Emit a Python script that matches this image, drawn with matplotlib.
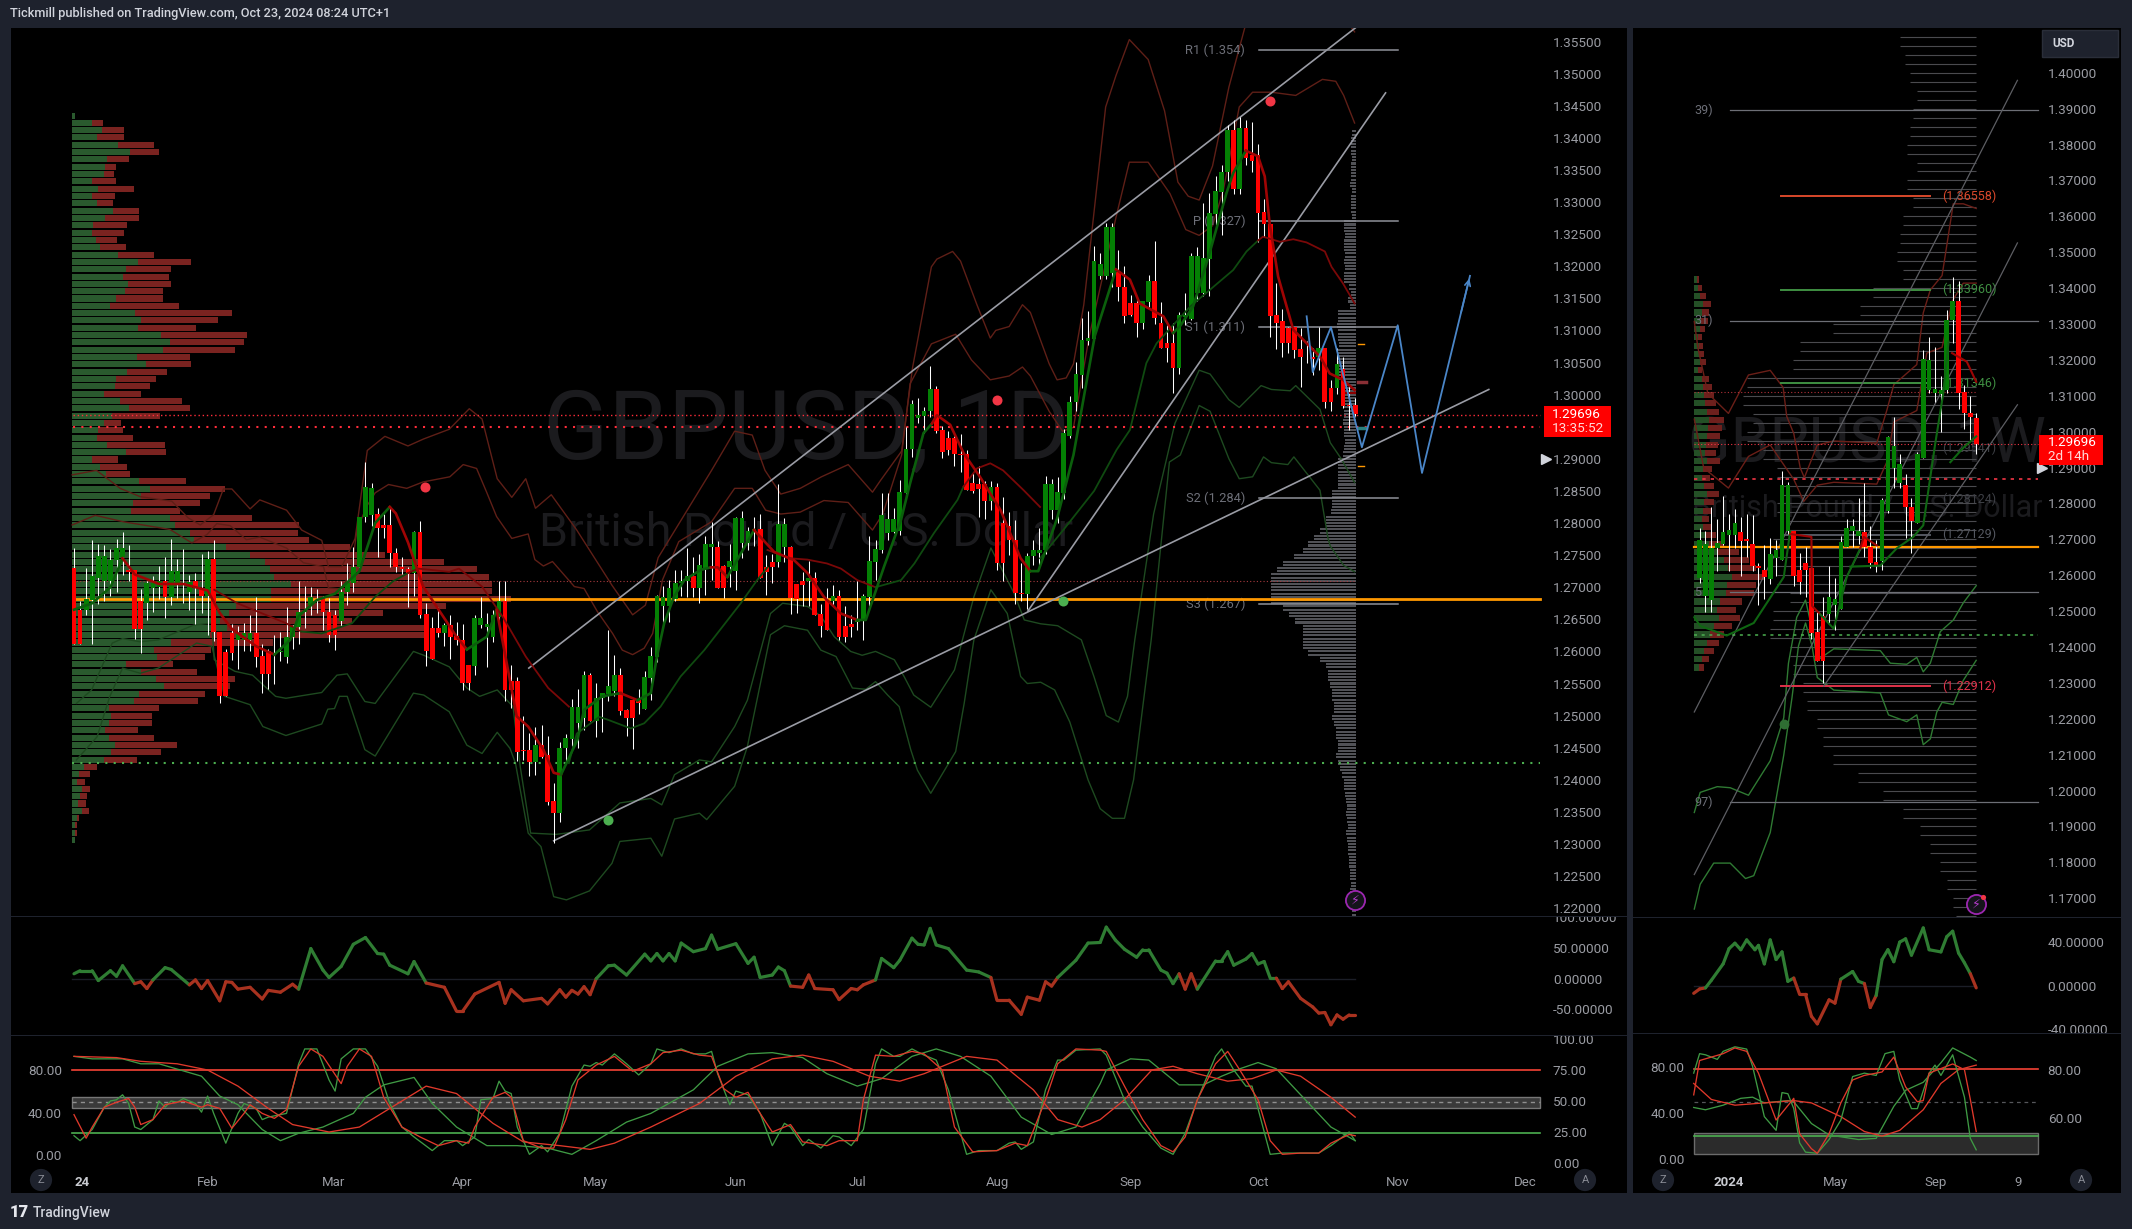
#!/usr/bin/env python3
import numpy as np
import matplotlib
matplotlib.use("Agg")
import matplotlib.pyplot as plt
from matplotlib.patches import Rectangle

plt.rcParams['font.family'] = ['Roboto', 'DejaVu Sans']

W, H = 2132, 1229
BG = '#1e222d'
TXT = '#9a9ca3'
GREEN = '#048004'
RED = '#ff0000'

# daily candles, bar by bar
d_open = [1.2730,1.2665,1.2664,1.2680,1.2714,1.2709,1.2709,1.2742,1.2747,1.2727,1.2727,1.2678,1.2675,1.2699,1.2700,1.2710,1.2685,1.2705,1.2706,1.2692,
          1.2709,1.2699,1.2687,1.2744,1.2631,1.2599,1.2628,1.2617,1.2617,1.2617,1.2629,1.2593,1.2601,1.2600,1.2599,1.2592,1.2622,1.2638,1.2661,1.2673,
          1.2685,1.2684,1.2662,1.2656,1.2648,1.2692,1.2706,1.2731,1.2809,1.2813,1.2814,1.2797,1.2797,1.2753,1.2731,1.2728,1.2722,1.2786,1.2659,1.2637,
          1.2637,1.2628,1.2641,1.2624,1.2618,1.2579,1.2578,1.2641,1.2638,1.2622,1.2654,1.2679,1.2554,1.2554,1.2447,1.2447,1.2427,1.2455,1.2438,1.2367,
          1.2349,1.2449,1.2464,1.2488,1.2497,1.2563,1.2492,1.2527,1.2534,1.2539,1.2563,1.2509,1.2524,1.2524,1.2510,1.2559,1.2592,1.2670,1.2670,1.2681,
          1.2706,1.2709,1.2717,1.2698,1.2729,1.2762,1.2762,1.2733,1.2732,1.2726,1.2769,1.2769,1.2787,1.2790,1.2731,1.2740,1.2740,1.2762,1.2762,1.2705,
          1.2710,1.2709,1.2715,1.2658,1.2680,1.2679,1.2686,1.2640,1.2643,1.2646,1.2649,1.2685,1.2740,1.2758,1.2785,1.2786,1.2787,1.2847,1.2915,1.2963,
          1.2967,1.2974,1.3009,1.2945,1.2933,1.2933,1.2908,1.2908,1.2863,1.2861,1.2861,1.2835,1.2856,1.2800,1.2795,1.2774,1.2691,1.2690,1.2748,1.2754,
          1.2758,1.2820,1.2820,1.2847,1.2935,1.2988,1.3031,1.3084,1.3087,1.3184,1.3184,1.3190,1.3191,1.3168,1.3143,1.3143,1.3112,1.3145,1.3177,1.3111,
          1.3081,1.3081,1.3042,1.3121,1.3117,1.3159,1.3159,1.3212,1.3282,1.3316,1.3346,1.3412,1.3321,1.3415,1.3373,1.3373,1.3284,1.3266,1.3124,1.3115,
          1.3104,1.3105,1.3071,1.3059,1.3058,1.3058,1.3073,1.3011,1.3010,1.3040,1.2984,1.2984]
d_close = [1.2612,1.2612,1.2682,1.2717,1.2749,1.2749,1.2743,1.2761,1.2761,1.2723,1.2635,1.2635,1.2706,1.2706,1.2709,1.2685,1.2725,1.2725,1.2703,1.2708,
           1.2698,1.2687,1.2744,1.2630,1.2531,1.2531,1.2598,1.2628,1.2628,1.2629,1.2592,1.2565,1.2565,1.2601,1.2600,1.2622,1.2638,1.2661,1.2663,1.2685,
           1.2684,1.2661,1.2625,1.2625,1.2693,1.2706,1.2731,1.2809,1.2856,1.2855,1.2793,1.2793,1.2753,1.2732,1.2729,1.2721,1.2786,1.2657,1.2600,1.2588,
           1.2628,1.2641,1.2623,1.2617,1.2551,1.2551,1.2652,1.2652,1.2643,1.2656,1.2678,1.2540,1.2540,1.2444,1.2445,1.2427,1.2455,1.2436,1.2366,1.2349,
           1.2449,1.2465,1.2513,1.2513,1.2563,1.2492,1.2527,1.2535,1.2546,1.2563,1.2507,1.2497,1.2497,1.2520,1.2560,1.2593,1.2686,1.2685,1.2699,1.2706,
           1.2710,1.2717,1.2698,1.2735,1.2768,1.2768,1.2699,1.2699,1.2741,1.2808,1.2808,1.2788,1.2790,1.2715,1.2723,1.2731,1.2798,1.2798,1.2683,1.2681,
           1.2704,1.2715,1.2657,1.2640,1.2633,1.2686,1.2622,1.2622,1.2638,1.2649,1.2686,1.2741,1.2760,1.2812,1.2806,1.2806,1.2848,1.2915,1.2985,1.2968,
           1.2975,1.3009,1.2944,1.2910,1.2913,1.2907,1.2906,1.2851,1.2850,1.2853,1.2835,1.2856,1.2737,1.2737,1.2773,1.2691,1.2690,1.2749,1.2758,1.2758,
           1.2861,1.2861,1.2848,1.2940,1.2988,1.3032,1.3085,1.3088,1.3208,1.3203,1.3261,1.3261,1.3167,1.3122,1.3124,1.3112,1.3146,1.3177,1.3120,1.3073,
           1.3073,1.3042,1.3124,1.3124,1.3216,1.3216,1.3213,1.3283,1.3317,1.3347,1.3412,1.3321,1.3415,1.3368,1.3364,1.3283,1.3265,1.3123,1.3112,1.3081,
           1.3081,1.3070,1.3058,1.3058,1.3056,1.3072,1.2989,1.2989,1.3048,1.2983,1.2983,1.2970]
d_high = [1.2761,1.2678,1.2730,1.2773,1.2768,1.2766,1.2759,1.2775,1.2786,1.2766,1.2727,1.2697,1.2709,1.2717,1.2733,1.2747,1.2775,1.2744,1.2759,1.2719,
          1.2722,1.2752,1.2756,1.2774,1.2631,1.2604,1.2643,1.2640,1.2644,1.2656,1.2685,1.2612,1.2603,1.2625,1.2631,1.2669,1.2641,1.2709,1.2702,1.2701,
          1.2697,1.2687,1.2683,1.2665,1.2709,1.2737,1.2762,1.2810,1.2895,1.2863,1.2823,1.2814,1.2823,1.2761,1.2747,1.2732,1.2788,1.2803,1.2675,1.2653,
          1.2669,1.2644,1.2656,1.2646,1.2643,1.2579,1.2657,1.2685,1.2660,1.2665,1.2710,1.2709,1.2579,1.2560,1.2499,1.2473,1.2483,1.2486,1.2469,1.2395,
          1.2459,1.2472,1.2526,1.2541,1.2570,1.2566,1.2551,1.2535,1.2634,1.2594,1.2574,1.2511,1.2526,1.2541,1.2570,1.2607,1.2688,1.2702,1.2712,1.2727,
          1.2727,1.2761,1.2747,1.2752,1.2779,1.2802,1.2772,1.2735,1.2767,1.2809,1.2819,1.2794,1.2809,1.2814,1.2750,1.2752,1.2860,1.2808,1.2764,1.2705,
          1.2723,1.2741,1.2724,1.2674,1.2698,1.2704,1.2696,1.2671,1.2657,1.2710,1.2689,1.2779,1.2774,1.2846,1.2846,1.2824,1.2867,1.2950,1.2992,1.2994,
          1.2980,1.3045,1.3014,1.2951,1.2944,1.2936,1.2939,1.2914,1.2879,1.2889,1.2866,1.2866,1.2863,1.2840,1.2817,1.2804,1.2737,1.2753,1.2774,1.2793,
          1.2873,1.2868,1.2871,1.2946,1.2998,1.3051,1.3119,1.3131,1.3231,1.3221,1.3268,1.3267,1.3226,1.3200,1.3155,1.3148,1.3146,1.3186,1.3239,1.3144,
          1.3109,1.3111,1.3128,1.3159,1.3220,1.3230,1.3299,1.3314,1.3340,1.3358,1.3420,1.3428,1.3432,1.3428,1.3424,1.3391,1.3304,1.3266,1.3174,1.3134,
          1.3106,1.3106,1.3103,1.3083,1.3072,1.3105,1.3073,1.3023,1.3072,1.3059,1.3015,1.2994]
d_low = [1.2612,1.2612,1.2657,1.2612,1.2674,1.2678,1.2687,1.2692,1.2719,1.2709,1.2619,1.2598,1.2649,1.2662,1.2681,1.2652,1.2673,1.2683,1.2676,1.2664,
         1.2643,1.2660,1.2626,1.2616,1.2520,1.2531,1.2587,1.2573,1.2600,1.2600,1.2576,1.2536,1.2542,1.2550,1.2585,1.2582,1.2604,1.2612,1.2636,1.2657,
         1.2660,1.2634,1.2614,1.2602,1.2639,1.2673,1.2692,1.2725,1.2801,1.2796,1.2747,1.2776,1.2732,1.2723,1.2721,1.2669,1.2686,1.2652,1.2577,1.2588,
         1.2623,1.2608,1.2588,1.2610,1.2540,1.2540,1.2564,1.2637,1.2575,1.2615,1.2645,1.2522,1.2512,1.2429,1.2431,1.2406,1.2408,1.2434,1.2360,1.2302,
         1.2334,1.2424,1.2452,1.2450,1.2477,1.2491,1.2467,1.2474,1.2523,1.2530,1.2501,1.2468,1.2448,1.2503,1.2510,1.2524,1.2584,1.2645,1.2646,1.2679,
         1.2686,1.2685,1.2685,1.2676,1.2688,1.2711,1.2698,1.2683,1.2701,1.2695,1.2745,1.2758,1.2764,1.2714,1.2688,1.2707,1.2732,1.2740,1.2659,1.2660,
         1.2670,1.2670,1.2657,1.2623,1.2633,1.2671,1.2617,1.2614,1.2622,1.2633,1.2617,1.2670,1.2711,1.2754,1.2774,1.2784,1.2781,1.2841,1.2903,1.2955,
         1.2940,1.2965,1.2940,1.2902,1.2906,1.2889,1.2879,1.2851,1.2847,1.2809,1.2807,1.2820,1.2727,1.2709,1.2750,1.2674,1.2678,1.2666,1.2735,1.2732,
         1.2752,1.2806,1.2800,1.2838,1.2932,1.2975,1.3010,1.3077,1.3084,1.3180,1.3180,1.3168,1.3146,1.3111,1.3122,1.3089,1.3102,1.3137,1.3110,1.3073,
         1.3051,1.3003,1.3032,1.3108,1.3116,1.3146,1.3154,1.3154,1.3264,1.3249,1.3332,1.3313,1.3313,1.3358,1.3347,1.3238,1.3246,1.3090,1.3071,1.3059,
         1.3065,1.3057,1.3012,1.3049,1.3031,1.3038,1.2979,1.2974,1.3001,1.2979,1.2945,1.2967]

# bands around the daily price, (bar, price)
d_upper_out = [(-0.3,1.2875),(3.7,1.2882),(7.6,1.2854),(10.9,1.2841),(16.1,1.2834),(18.8,1.2808),(20.8,1.2797),(23,1.2813),(24.6,1.2853),(26,1.2853),(29,1.2822),(30.6,1.2836),(35,1.2820),(37.5,1.2789),(40.8,1.2773),(41.9,1.2732),(44.1,1.2732),(46.3,1.2776),(48.3,1.2913),(51.2,1.2935),(55,1.2920),(57.6,1.2931),(61.8,1.2946),(65.1,1.2978),(67.2,1.2962),(69.7,1.2869),(72.1,1.2840),(74.4,1.2869),(76,1.2823),(78.6,1.2844),(82.8,1.2789),(88.6,1.2703),(92,1.2657),(94.1,1.2672),(96.2,1.2746),(105,1.2882),(108.8,1.2943),(111.7,1.2937),(113.8,1.2882),(116.4,1.2845),(119.6,1.2854),(123.1,1.2872),(127.5,1.2891),(131.5,1.2848),(132.8,1.2866),(136.3,1.2912),(138.1,1.3042),(141.2,1.3199),(142.1,1.3211),(144.7,1.3223),(146,1.3208),(148.7,1.3140),(150.9,1.3088),(151.8,1.3100),(154,1.3106),(156.2,1.3140),(157.5,1.3128),(160.6,1.3048),(161.9,1.3023),(163.4,1.3026),(164.6,1.3048),(166.3,1.3140),(169.9,1.3448),(171.6,1.3497),(173.8,1.3553),(176.9,1.3522),(179.6,1.3442),(181.8,1.3331),(183.5,1.3309),(185.3,1.3303),(187.5,1.3356),(190.2,1.3479),(192.8,1.3571),(195,1.3640),(205,1.3640),(210.9,1.3565)]
d_upper_in = [(-0.3,1.2797),(3.5,1.2812),(8.1,1.2802),(15.8,1.2790),(19.4,1.2769),(21.9,1.2782),(23.5,1.2799),(25.7,1.2796),(28.4,1.2774),(30.6,1.2778),(35,1.2761),(37.8,1.2738),(41.1,1.2732),(41.9,1.2699),(44.1,1.2697),(45.7,1.2727),(46.6,1.2789),(48.2,1.2826),(49.6,1.2847),(51.8,1.2860),(54.8,1.2854),(57.5,1.2864),(61.9,1.2872),(64.1,1.2891),(66.3,1.2885),(68,1.2847),(69.6,1.2810),(72.1,1.2776),(74.8,1.2783),(75.9,1.2743),(77.3,1.2733),(78.8,1.2740),(82.4,1.2701),(84,1.2698),(86.2,1.2662),(88.7,1.2628),(90.3,1.2602),(92,1.2595),(93.9,1.2605),(95.3,1.2628),(96.9,1.2711),(99.6,1.2771),(105,1.2802),(108.8,1.2854),(111.7,1.2854),(113.9,1.2820),(116.4,1.2814),(119.6,1.2817),(123.5,1.2835),(127.5,1.2832),(131.5,1.2789),(133.2,1.2814),(136.3,1.2906),(137.7,1.3017),(141.2,1.3079),(145.2,1.3094),(147.8,1.3054),(150.9,1.3023),(154,1.3029),(156.2,1.3043),(157.5,1.3029),(160.6,1.2974),(162.8,1.2943),(164.6,1.2949),(167.2,1.3091),(171.6,1.3276),(173.8,1.3362),(176.9,1.3362),(180.5,1.3313),(183.1,1.3257),(185.3,1.3248),(187.5,1.3263),(189.3,1.3319),(191.9,1.3448),(194.1,1.3471),(197.2,1.3471),(201.2,1.3466),(205.6,1.3491),(207.8,1.3488),(209.1,1.3466),(210.9,1.3423)]
d_lower_in = [(0.4,1.2519),(2.9,1.2540),(6.3,1.2613),(8,1.2620),(10.9,1.2615),(13.9,1.2618),(19.7,1.2641),(22.7,1.2644),(23.1,1.2587),(26.5,1.2569),(29.4,1.2563),(33.2,1.2530),(34.9,1.2527),(40.8,1.2536),(43.3,1.2563),(45,1.2565),(47.9,1.2522),(49.6,1.2519),(55.9,1.2600),(57.6,1.2594),(61.8,1.2576),(64.7,1.2543),(66.8,1.2530),(69.7,1.2540),(72.3,1.2514),(73.5,1.2420),(75.2,1.2317),(79.4,1.2315),(84.9,1.2322),(89.9,1.2364),(95,1.2371),(96.8,1.2361),(98.9,1.2408),(103,1.2431),(105,1.2428),(108.8,1.2483),(110.9,1.2524),(114.7,1.2659),(116.7,1.2675),(120.8,1.2670),(123,1.2655),(125.2,1.2623),(127.9,1.2600),(129.8,1.2594),(132,1.2600),(135.1,1.2587),(136.7,1.2561),(138.3,1.2532),(141.1,1.2513),(145,1.2571),(148.2,1.2685),(151,1.2761),(154.8,1.2691),(156.5,1.2649),(159.2,1.2643),(162,1.2640),(165.9,1.2618),(168,1.2560),(170,1.2500),(172,1.2490),(173.5,1.2530),(174.7,1.2618),(177.8,1.2814),(181.3,1.2955),(185.3,1.3038),(187.1,1.3032),(190.2,1.2992),(191.9,1.2980),(195.5,1.3014),(197.2,1.3008),(200.3,1.3006),(201.2,1.3014),(205.2,1.2977),(206.9,1.2925),(208.7,1.2900),(210.9,1.2863)]
d_lower_out = [(0.4,1.2431),(3.8,1.2467),(5.9,1.2530),(8,1.2574),(10.9,1.2566),(13.9,1.2574),(20.2,1.2613),(22.7,1.2608),(24.8,1.2530),(29,1.2517),(31.1,1.2483),(34.9,1.2469),(40.8,1.2487),(41.8,1.2510),(42.9,1.2511),(43.7,1.2530),(45,1.2530),(47.9,1.2447),(49.6,1.2437),(55.9,1.2535),(57.6,1.2532),(61.8,1.2506),(64.7,1.2454),(67.2,1.2441),(69.7,1.2474),(71.8,1.2449),(72.7,1.2426),(74.8,1.2317),(76.9,1.2296),(79,1.2218),(81.1,1.2213),(84.9,1.2227),(88.6,1.2270),(89.9,1.2304),(95,1.2309),(96.8,1.2281),(98.9,1.2339),(103,1.2348),(104.2,1.2338),(108.8,1.2390),(110.9,1.2452),(114.7,1.2626),(117,1.2640),(120.8,1.2633),(123,1.2602),(125.5,1.2592),(128.2,1.2543),(130.4,1.2541),(132,1.2553),(134,1.2532),(135.9,1.2514),(137.8,1.2447),(138.9,1.2415),(141.1,1.2379),(145.2,1.2444),(146.6,1.2519),(148.2,1.2618),(151,1.2696),(153.7,1.2659),(155.9,1.2561),(157,1.2550),(159.2,1.2552),(161.5,1.2540),(164,1.2490),(167,1.2400),(169,1.2355),(171,1.2340),(173,1.2340),(174.5,1.2400),(177.4,1.2618),(180.4,1.2895),(182.2,1.2906),(185.3,1.2983),(187.1,1.2974),(190.2,1.2900),(191.9,1.2869),(194.1,1.2872),(195.9,1.2903),(197.2,1.2894),(199.9,1.2891),(200.9,1.2903),(205.2,1.2851),(206.5,1.2777),(206.9,1.2764),(209.1,1.2734),(210.9,1.2724)]

# moving averages, coloured runs
d_fast_runs = [
    ('g', [(0,1.2665),(3,1.2675),(6,1.2700),(8,1.2745)]),
    ('r', [(8,1.2745),(10,1.2720),(14,1.2705),(18,1.2705),(22,1.2695),(24,1.2660),(26,1.2635),(30,1.2608),(33,1.2595)]),
    ('g', [(33,1.2595),(35.6,1.2618),(37,1.2655),(40,1.2680),(43,1.2690),(47,1.2725),(49.6,1.2800),(52,1.2825)]),
    ('r', [(52,1.2825),(53,1.2815),(55,1.2770),(57.5,1.2701),(59.7,1.2670),(63,1.2623),(64.7,1.2603)]),
    ('g', [(64.7,1.2603),(68,1.2623),(69.6,1.2665)]),
    ('r', [(69.6,1.2665),(71.5,1.2570),(72.9,1.2499),(74.8,1.2483),(77.3,1.2447),(79,1.2411),(80.2,1.2408)]),
    ('g', [(80.2,1.2408),(82.9,1.2462),(84,1.2509),(87,1.2530),(90,1.2535)]),
    ('r', [(90,1.2535),(92.8,1.2524)]),
    ('g', [(92.8,1.2524),(95,1.2535),(96,1.2592),(97.2,1.2644),(98.8,1.2685),(100.5,1.2711),(103.2,1.2727),(104.9,1.2731)]),
    ('r', [(104.9,1.2731),(106,1.2731),(107.6,1.2716)]),
    ('g', [(107.6,1.2716),(109.2,1.2742),(112,1.2789)]),
    ('r', [(112,1.2789),(115.3,1.2755),(118.6,1.2742),(120.8,1.2722),(123.5,1.2685),(126.3,1.2659),(129,1.2649)]),
    ('g', [(129,1.2649),(130.4,1.2649),(133.4,1.2732),(136.2,1.2805),(137.7,1.2862),(139.9,1.2940),(141.3,1.2955)]),
    ('r', [(141.3,1.2955),(142.1,1.2968),(144.3,1.2953),(146.5,1.2909),(149.2,1.2872),(152.6,1.2820),(155.9,1.2745),(157.5,1.2725)]),
    ('g', [(157.5,1.2725),(158.8,1.2725),(161.9,1.2807),(164.6,1.2906),(168.1,1.3091),(171.6,1.3195)]),
    ('r', [(171.6,1.3195),(173.9,1.3179),(175.5,1.3142),(179.4,1.3122),(181,1.3096)]),
    ('g', [(181,1.3096),(182.1,1.3106),(184.3,1.3137),(187,1.3220),(189.8,1.3314),(190.9,1.3345),(193,1.3380)]),
    ('r', [(193,1.3380),(195,1.3371),(196.1,1.3340),(196.9,1.3267),(198.3,1.3184),(200.8,1.3101),(203,1.3080),(205.2,1.3059),(206.8,1.3033),(209,1.3023),(210.9,1.3007)]),
]
d_mid_runs = [
    ('r', [(23.1,1.2696),(26.9,1.2675),(34.9,1.2644),(37.4,1.2631)]),
    ('g', [(37.4,1.2631),(40.8,1.2628),(45.8,1.2644),(49.6,1.2685),(52.5,1.2709),(55,1.2722)]),
    ('r', [(55,1.2722),(56.7,1.2729),(61.8,1.2724),(63.4,1.2729),(67.2,1.2701),(70.6,1.2654),(74.4,1.2592),(78.1,1.2543),(81.5,1.2514)]),
    ('g', [(81.5,1.2426),(82.8,1.2472),(86.5,1.2498),(87.8,1.2494),(91.7,1.2480),(93.9,1.2488),(96.6,1.2514),(99.9,1.2561),(103.8,1.2602),(109.8,1.2675),(112.5,1.2711),(114.2,1.2731)]),
    ('r', [(114.2,1.2758),(118,1.2745),(120.8,1.2743),(124,1.2737),(126.3,1.2729),(129,1.2711),(132,1.2700)]),
    ('g', [(132,1.2700),(136.2,1.2711),(138.4,1.2737),(141.6,1.2784),(145.5,1.2836),(146.5,1.2857)]),
    ('r', [(146.5,1.2857),(148.7,1.2885),(150.9,1.2893),(153,1.2882),(156.4,1.2851),(159.1,1.2825)]),
    ('g', [(159.1,1.2745),(163,1.2790),(168,1.2850),(171.7,1.2914),(173.9,1.2945),(176.6,1.3049),(178.3,1.3080),(183.8,1.3137),(190.9,1.3194),(193.1,1.3223),(195,1.3240)]),
    ('r', [(195,1.3240),(195.8,1.3246),(198.6,1.3238),(200.8,1.3242),(203,1.3237),(206,1.3223),(207.1,1.3199),(209,1.3173),(210.9,1.3142)]),
]

# volume profile at the left of the daily chart, top row first
vp_top = 1.34347
vp_step = 0.00114
vp_buy = [3,20,30,25,46,58,35,33,32,20,26,20,25,41,33,21,20,24,28,46,66,54,51,56,53,44,38,63,69,66,89,98,91,65,74,55,44,43,32,48,57,40,32,26,25,35,54,
          20,28,34,67,78,69,61,59,98,103,118,122,154,178,193,198,202,219,199,199,164,157,148,155,138,99,82,85,54,69,84,92,67,62,37,39,37,33,37,43,39,32,12,7,5,10,8,6,10,5,3,3,3]
vp_sell = [0,11,22,27,36,29,22,11,10,24,36,23,16,26,34,34,32,21,26,36,53,45,46,43,38,47,69,97,77,58,86,74,72,53,45,40,40,35,37,62,61,48,17,25,36,58,40,
           26,27,24,47,75,69,67,49,82,124,108,115,124,135,179,207,215,201,221,240,210,154,132,200,217,102,57,48,47,56,79,66,66,64,50,41,43,33,45,62,50,33,13,11,8,8,7,8,7,2,2,2,0]

# grey visible range profile on the daily chart, one value per 0.001 from 1.341 down
vr_top = 1.341
vr_vol = [4,5,5,5,4,5,5,5,6,4,5,5,5,4,12,12,11,12,12,11,12,11,12,12,7,5,8,6,18,18,19,18,18,17,18,18,19,18,18,
          12,12,12,11,12,12,13,12,12,11,12,13,18,18,18,18,18,24,24,24,25,30,30,36,42,48,53,62,73,79,85,85,85,85,85,73,67,61,53,53,53,53,48,36,
          30,28,28,26,24,24,22,22,24,22,20,20,18,18,20,18,16,14,12,12,11,10,9,10,9,8,10,9,8,8,7,7,6,6,5,6,5,5,4,4,4]

d_channel_a = [(74.9,1.2574),(211,1.3571)]
d_channel_b = [(157.1,1.2663),(216,1.3470)]
d_channel_c = [(79,1.2305),(233,1.3008)]
d_forecast = [(203,1.3122),(204,1.3035),(207,1.3105),(212.1,1.2918),(218,1.3108),(222,1.2878),(229.9,1.3185)]
d_pivots = [('R1 (1.354)',1.3537),('P (1.327)',1.3270),('S1 (1.311)',1.3105),('S2 (1.284)',1.2839),('S3 (1.267)',1.2674)]
d_red_dots = [(57.8,1.2856),(152,1.2991),(197,1.3457)]
d_green_dots = [(88,1.2338),(162.9,1.2678)]
price_ticks = [1.22,1.225,1.23,1.235,1.24,1.245,1.25,1.255,1.26,1.265,1.27,1.275,1.28,1.285,1.29,1.30,1.305,1.31,1.315,1.32,1.325,1.33,1.335,1.34,1.345,1.35,1.355]
month_pos = [1.3,22,42.8,63.9,85.8,109,129,152,174,195,218,239]
month_lab = ['24','Feb','Mar','Apr','May','Jun','Jul','Aug','Sep','Oct','Nov','Dec']

# momentum pane, (bar, value)
d_mom = [(0,8),(1,13),(3,13),(4,-3),(6,13),(7,4),(8,21),(10,-8),(11,-5),(12,-16),(13,-2),(15,18),(16,15),(19,-10),(20,-2),(21,-16),(22,-3),(24,-36),(25,-5),(26,-6),(27,-17),(29,-14),(31,-33),(32,-19),(34,-22),(36,-9),(37,-17),(39,49),(41,14),(42,2),(44,20),(46,56),(48,67),(50,41),(51,40),(52,22),(55,8),(56,28),(58,-7),(61,-14),(63,-53),(64,-53),(66,-25),(70,-6),(71,-40),(72,-18),(74,-36),(77,-32),(78,-41),(80,-18),(81,-30),(82,-19),(83,-25),(84,-13),(85,-26),(86,0),(88,21),(89,22),(91,6),(94,40),(95,29),(96,41),(97,29),(98,41),(99,29),(100,58),(102,44),(104,49),(105,71),(106,48),(109,57),(111,25),(112,35),(113,2),(115,6),(116,19),(117,13),(118,-12),(120,-14),(121,6),(122,-16),(125,-18),(126,-34),(128,-16),(129,-18),(130,-10),(132,-2),(133,33),(135,18),(136,30),(138,66),(139,56),(140,55),(141,82),(142,55),(144,49),(147,14),(149,11),(151,2),(152,-35),(154,-35),(156,-58),(157,-30),(159,-35),(160,-5),(161,-12),(162,2),(165,30),(167,58),(169,59),(170,84),(171.5,63),(173,48),(175,35),(176,47),(177,47),(179,14),(180,9),(181,-8),(182,8),(183,-17),(184,8),(185,-17),(188,29),(189,29),(190,44),(191,22),(193,32),(194,41),(195,24),(196,28),(197,1),(198,1),(199,-16),(200,-5),(202,-32),(204,-46),(205,-56),(206,-55),(207,-75),(208,-59),(209,-66),(210,-59),(211,-59)]

# stochastic pane
d_fast_g = [(0,22),(1,18),(3,27),(5,45),(6,50),(7,51),(8,55),(9,48),(10,29),(11,27),(13,35),(14,50),(15,45),(16,50),(17,49),(18,52),(20,48),(21,41),(22,54),(23,40),(25,16),(27,40),(28,48),(30,44),(31,35),(32,37),(35,40),(37,80),(38,92),(40,92),(42,67),(43,58),(44,84),(46,92),(48,92),(50,78),(52,48),(54,29),(56,21),(59,10),(61,18),(63,18),(64,14),(66,21),(67,51),(69,52),(70,66),(71,58),(72,56),(73,29),(75,7),(77,14),(78,9),(80,24),(82,62),(84,79),(85,78),(86,81),(87,79),(89,88),(91,80),(93,71),(95,80),(96,92),(98,89),(100,92),(102,88),(104,88),(105,90),(106,72),(108,47),(109,58),(111,55),(113,40),(115,14),(117,32),(118,29),(120,14),(121,19),(123,12),(125,22),(126,21),(128,14),(130,27),(132,80),(133,92),(135,86),(136,86),(138,92),(140,87),(142,83),(144,59),(146,24),(147,7),(149,10),(152,10),(154,16),(155,17),(156,11),(158,17),(160,59),(162,83),(163,83),(165,91),(169,92),(170,87),(173,51),(176,29),(179,12),(181,7),(183,24),(185,51),(188,86),(189,92),(191,75),(193,62),(194,62),(197,7),(199,8),(202,8),(205,8),(207,14),(210,25),(211,18)]
d_fast_r = [(0,39),(2,20),(3,29),(5,45),(7,49),(9,52),(10,45),(11,31),(13,35),(15,47),(17,49),(18,50),(21,45),(22,47),(24,44),(26,28),(28,40),(29,47),(31,40),(33,36),(35,43),(37,78),(39,92),(41,86),(44,64),(45,78),(47,92),(49,86),(51,53),(54,29),(57,21),(60,14),(63,18),(65,16),(66,29),(69,53),(71,57),(72,53),(74,18),(77,12),(79,12),(81,35),(83,67),(86,79),(89,86),(92,74),(95,80),(97,89),(100,91),(103,87),(105,86),(107,60),(109,53),(111,57),(113,40),(115,25),(118,31),(120,17),(124,14),(126,18),(129,18),(130,51),(132,87),(135,86),(138,90),(140,88),(143,75),(145,29),(148,9),(152,10),(155,16),(157,14),(160,51),(162,80),(165,92),(169,91),(170,90),(173,62),(176,35),(179,14),(181,9),(183,21),(185,51),(188,80),(190,90),(192,75),(195,51),(197,18),(199,7),(202,8),(205,8),(207,16),(210,23),(211,22)]
d_slow_g = [(0,86),(3,84),(8,84),(11,80),(14,80),(21,70),(24,54),(27,47),(31,27),(34,18),(37,24),(41,29),(46,40),(48,53),(51,63),(56,69),(59,48),(63,29),(68,14),(73,14),(78,12),(82,7),(86,18),(91,33),(95,40),(102,59),(106,78),(111,88),(115,89),(120,85),(124,72),(129,62),(133,68),(138,86),(142,92),(146,86),(151,70),(156,37),(161,23),(165,29),(169,64),(170,75),(174,84),(177,83),(179,75),(182,63),(186,63),(189,70),(192,76),(195,81),(198,76),(202.4,53),(207,29),(211,18)]
d_slow_r = [(0,86),(7,85),(11,82),(17,80),(22,75),(27,62),(32,44),(36,31),(42,25),(47,29),(53,47),(58,62),(63,56),(69,32),(74,17),(80,14),(85,11),(89,16),(95,29),(103,48),(109,70),(115,84),(120,87),(125,82),(131,70),(136,66),(140,72),(147,86),(152,83),(158,59),(162,35),(166,29),(169,35),(173,51),(177.5,75),(181,78),(185,72),(190,66),(194,68),(198,75),(202,70),(207,53),(211,37)]

# weekly candles
w_open = [1.2592,1.2542,1.2531,1.2675,1.2688,1.2712,1.2712,1.2720,1.2702,1.2688,1.2627,1.2614,1.2590,1.2648,1.2643,1.2723,1.2723,1.2614,1.2634,1.2619,1.2443,1.2486,1.2491,1.2518,1.2507,1.2678,1.2723,1.2710,1.2720,1.2678,1.2638,1.2640,1.2779,1.2899,1.2858,1.2851,1.2790,1.2747,1.2928,1.3115,1.3107,1.3104,1.3115,1.3312,1.3363,1.3112,1.3051,1.3038]
w_close = [1.2699,1.2688,1.2675,1.2691,1.2720,1.2726,1.2745,1.2696,1.2696,1.2627,1.2619,1.2595,1.2659,1.2670,1.2851,1.2851,1.2598,1.2582,1.2614,1.2438,1.2360,1.2360,1.2539,1.2534,1.2694,1.2731,1.2736,1.2723,1.2678,1.2635,1.2627,1.2811,1.2984,1.2960,1.2910,1.2790,1.2750,1.2939,1.3203,1.3200,1.3120,1.3115,1.3312,1.3363,1.3107,1.3053,1.3040,1.2966]
w_high = [1.2731,1.2723,1.2790,1.2758,1.2822,1.2771,1.2784,1.2763,1.2771,1.2768,1.2635,1.2683,1.2704,1.2699,1.2891,1.2859,1.2723,1.2662,1.2678,1.2704,1.2499,1.2539,1.2627,1.2592,1.2710,1.2758,1.2758,1.2816,1.2858,1.2736,1.2699,1.2816,1.2989,1.3040,1.2939,1.2883,1.2816,1.2944,1.3227,1.3264,1.3235,1.3155,1.3339,1.3430,1.3419,1.3131,1.3099,1.3051]
w_low = [1.2579,1.2499,1.2499,1.2611,1.2683,1.2611,1.2675,1.2598,1.2651,1.2611,1.2518,1.2534,1.2576,1.2598,1.2643,1.2715,1.2571,1.2547,1.2539,1.2422,1.2360,1.2299,1.2467,1.2448,1.2507,1.2678,1.2678,1.2688,1.2651,1.2619,1.2608,1.2614,1.2774,1.2843,1.2843,1.2704,1.2662,1.2747,1.2928,1.3107,1.3083,1.2998,1.3107,1.3248,1.3062,1.3008,1.2976,1.2939]

w_upper_out = [(-0.9,1.3307),(-0.3,1.3235),(1.4,1.3107),(4.9,1.3051),(8.3,1.3158),(12,1.3171),(14.2,1.3123),(14.8,1.3043),(16,1.2995),(17.1,1.2899),(17.8,1.2872),(20,1.2963),(22.8,1.2974),(30.1,1.2968),(31.8,1.3059),(33,1.3131),(36.9,1.3187),(38,1.3331),(39.2,1.3395),(41.2,1.3435),(43.1,1.3635),(44.8,1.3635),(47,1.3622)]
w_upper_in = [(-0.9,1.3035),(0.7,1.2899),(4.9,1.2843),(8.3,1.2931),(12,1.2963),(16,1.2867),(17.7,1.2806),(20,1.2851),(22.8,1.2859),(30.1,1.2854),(31.8,1.2915),(33,1.3027),(36.9,1.3059),(38.6,1.3219),(41.2,1.3235),(42.9,1.3363),(44.8,1.3414),(47,1.3414)]
w_lower_in = [(-0.9,1.1939),(0.1,1.1995),(3,1.2011),(5.2,1.2008),(8.3,1.1987),(12,1.2083),(14.3,1.2203),(15.1,1.2355),(16.5,1.2483),(18,1.2531),(19.1,1.2451),(20,1.2363),(22.8,1.2395),(30.7,1.2390),(32.4,1.2355),(35.2,1.2352),(36.9,1.2371),(38,1.2331),(39.2,1.2355),(40.9,1.2443),(43.1,1.2475),(44.8,1.2523),(47,1.2571)]
w_lower_out = [(-0.9,1.1670),(0.1,1.1739),(2.4,1.1798),(5.2,1.1798),(7.8,1.1755),(9.2,1.1763),(12,1.1883),(14.3,1.2099),(15.7,1.2259),(16.8,1.2403),(18,1.2467),(19.1,1.2403),(20,1.2315),(22.8,1.2280),(30.7,1.2272),(32.1,1.2211),(35.2,1.2192),(36.9,1.2211),(38,1.2128),(39.2,1.2144),(40.3,1.2219),(41.2,1.2246),(43.1,1.2240),(44.8,1.2307),(47,1.2363)]
w_mid_runs = [
    ('g', [(-0.9,1.2483),(0.1,1.2459),(4.6,1.2432),(9.2,1.2467),(14.3,1.2595),(15.4,1.2723)]),
    ('r', [(15.4,1.2715),(19,1.2707),(19.1,1.2515),(20.5,1.2491)]),
    ('g', [(20.5,1.2491),(22.8,1.2451),(25,1.2595),(27.3,1.2675)]),
    ('r', [(27.3,1.2675),(27.9,1.2707),(30.1,1.2683)]),
    ('g', [(25.6,1.2624),(30.7,1.2627),(33.5,1.2675),(36.3,1.2707),(38,1.2739),(40,1.2963),(41.4,1.3107),(42.3,1.3251)]),
    ('g', [(42.6,1.2915),(44.8,1.2955),(47,1.2987)]),
    ('r', [(42.9,1.3219),(45.4,1.3195),(47,1.3139)]),
]
w_channels = [[(-0.9,1.2219),(54,1.3979)],[(-0.9,1.1766),(54,1.3526)],[(21.1,1.2291),(54,1.3075)]]
w_pivot_grey = [('39)',1.3895),('31)',1.3309),('5',1.2552),('97)',1.1968)]
w_levels = [(1.36558,'#d9482b','(1.36558)'),(1.33960,'#3f8f42','(1.33960)'),(1.31346,'#3f8f42','(1.31346)'),(1.27129,'#555861','(1.27129)'),(1.22912,'#e0324a','(1.22912)')]
w_faint_labels = [(1.29541,'(1.29541)'),(1.28124,'(1.28124)')]

w_vp_top = 1.3424
w_vp_step = 0.0023
w_vp_buy = [3,4,6,9,8,7,6,4,5,5,6,4,8,9,10,11,13,15,14,13,12,11,13,9,8,10,13,10,9,8,9,11,15,23,30,34,38,33,32,26,23,25,20,16,13,10,8,5]
w_vp_sell = [2,4,6,8,7,7,5,4,4,5,6,4,7,9,10,11,12,15,14,13,12,11,13,9,8,10,12,10,9,7,9,11,15,22,25,28,32,29,28,22,19,21,18,14,12,10,7,5]
w_vr_top = 1.41
w_vr_vol = [76,71,66,59,63,66,69,59,69,63,73,76,79,73,103,116,143,176,183,229,233,223,229,213,199,193,199,189,203,206,199,186,203,206,186,183,173,169,159,153,143,118,93,73,56,46,36,29,23,20]
w_price_ticks = [1.17,1.18,1.19,1.20,1.21,1.22,1.23,1.24,1.25,1.26,1.27,1.28,1.29,1.30,1.31,1.32,1.33,1.34,1.35,1.36,1.37,1.38,1.39,1.40]
w_time_pos = [5,23,40.1,54.1]
w_time_lab = ['2024','May','Sep','9']

w_mom = [(-1,-7),(0,-3),(1,-2),(2,5),(4,20),(5,34),(6,39),(7,33),(8,42),(9.4,33),(10,37),(11,20),(12,42),(13,24),(14,31),(15,4),(16,7),(17,-8),(18,-8),(19,-28),(20,-35),(22,-13),(23,-16),(24,6),(26,13),(27,4),(28,2),(29,-20),(30,-9),(31,24),(32,33),(33,22),(34,40),(35,43),(36,28),(38,53),(39,33),(41,31),(42,45),(43,50),(44,30),(45,21),(46,11),(47,-2)]
w_fast_g = [(-1,75),(0,92),(1,91),(3,87),(4,94),(6,98),(8,96),(9,81),(11,37),(13,25),(14,58),(15,57),(16,44),(17,14),(18,6),(20,5),(22,17),(24,34),(26,72),(28,75),(30,73),(31.5,92),(33,94),(34,69),(36,44),(37,44),(39,75),(40,82),(41,73),(43,91),(45,54),(46,18),(47,8)]
w_slow_g = [(-1,45),(1,43),(4,47),(7,53),(9,54),(11,49),(15,51),(16,50),(19,31),(22,21),(27,17),(30,18),(33,46),(35,60),(38,67),(41,84),(43,97),(46,89),(47,86)]
w_fast_r = [(-1,56),(0,86),(2,89),(4,92),(6,97),(8,94),(10,75),(13,34),(16,53),(17,22),(19,9),(20,5),(22,22),(24,49),(26,69),(28,73),(31,76),(33,89),(35,63),(37,50),(38,51),(39,75),(41,79),(43,83),(45,78),(46,52),(47,24)]
w_slow_r = [(-1,66),(2,52),(6,47),(11,49),(16,51),(19,49),(24,37),(28,24),(31,20),(34,25),(38,43),(41,66),(44,78),(47,82)]


def pane(left, top, right, bottom):
    a = fig.add_axes([left/W, 1-bottom/H, (right-left)/W, (bottom-top)/H], facecolor='black')
    for s in a.spines.values():
        s.set_visible(False)
    a.tick_params(length=0, labelcolor=TXT, labelsize=9.7)
    a.grid(False)
    return a


def inner_right(a, ticks, fmt, pad):
    a.yaxis.tick_right()
    a.set_yticks(ticks)
    a.set_yticklabels([fmt % t for t in ticks], ha='left')
    a.tick_params(axis='y', pad=pad, direction='in', length=0)
    a.set_xticks([])


def clip_labels(a):
    # the labels at the pane ends are cut off by the pane, as on the site
    for t in a.get_yticklabels():
        t.set_clip_on(True)
        t.set_clip_box(a.bbox)


def xy(pairs):
    return [p[0] for p in pairs], [p[1] for p in pairs]


def candles(a, o, c, h, l, width):
    o, c, h, l = map(np.array, (o, c, h, l))
    x = np.arange(len(o))
    a.vlines(x, l, h, colors='white', lw=0.75, zorder=5)
    up = c >= o
    body = np.maximum(np.abs(c-o), 0.00012)
    a.bar(x[up], body[up], bottom=o[up], width=width, color=GREEN, zorder=6, lw=0)
    a.bar(x[~up], body[~up], bottom=c[~up], width=width, color=RED, zorder=6, lw=0)


def runs(a, data, green, red, lw):
    for col, pts in data:
        px_, py_ = xy(pts)
        a.plot(px_, py_, color=green if col == 'g' else red, lw=lw, zorder=7)


def mom_line(a, data, limit=None):
    mx, my = xy(data)
    for j in range(len(mx)-1):
        is_up = my[j]+my[j+1] >= 0
        if limit is not None and mx[j] >= limit:
            is_up = False
        a.plot(mx[j:j+2], my[j:j+2], color='#2f7d33' if is_up else '#a8321f', lw=2.3, solid_capstyle='round')


def px_text(x, y, s, **kw):
    fig.text(x/W, 1-y/H, s, **kw)


def circle_btn(x, y, s):
    px_text(x, y, s, color='#8a8d96', fontsize=8, ha='center', va='center',
            bbox=dict(boxstyle='circle,pad=0.55', fc='#1e222d', ec='none'), zorder=20)


fig = plt.figure(figsize=(W/100, H/100), dpi=100, facecolor=BG)

# ---------- daily, main pane ----------
ax = pane(11, 28, 1627, 916)
ax.set_xlim(-10.375, 255.76)
ax.set_ylim(1.355-(916-41.5)*0.00015576, 1.355+(41.5-28)*0.00015576)
inner_right(ax, price_ticks, '%.5f', -53.3)

ax.text(120.6, 1.2941, 'GBPUSD, 1D', color='#1b1b1e', fontsize=69, ha='center', va='center', zorder=0.5)
ax.text(120.6, 1.2784, 'British Pound / U.S. Dollar', color='#1b1b1e', fontsize=33.5, ha='center', va='center', zorder=0.5)

rows = vp_top - np.arange(len(vp_buy))*vp_step
buy = np.array(vp_buy)/6.072
sell = np.array(vp_sell)/6.072
ax.barh(rows, buy, left=-0.33, height=0.00094, color='#2a5a2e', lw=0, zorder=1)
ax.barh(rows, sell, left=-0.33+buy, height=0.00094, color='#7a2320', lw=0, zorder=1)

vr_rows = vr_top - np.arange(len(vr_vol))*0.001
for off in (0, 0.0005):
    ax.barh(vr_rows-off, -np.array(vr_vol)/6.072, left=211.1, height=0.00032, color='#515257', lw=0, zorder=1)

for band, col in ((d_upper_out, '#5f1f17'), (d_upper_in, '#5f1f17'), (d_lower_in, '#1e4a20'), (d_lower_out, '#1e4a20')):
    bx, by = xy(band)
    ax.plot(bx, by, color=col, lw=1.0, zorder=2)

ax.plot([-0.2, 241.5], [1.2682, 1.2682], color='#ff9800', lw=2, zorder=4)
ax.plot([-0.2, 241.5], [1.2969, 1.2969], color='#ff2d3a', lw=1, ls=(0, (1, 2)), zorder=4)
ax.plot([-0.2, 241.5], [1.2950, 1.2950], color='#ff2d3a', lw=1.5, ls=(0, (1, 3)), zorder=4)
ax.plot([-0.2, 211], [1.2709, 1.2709], color='#a83a3f', lw=0.8, ls=(0, (1, 2)), zorder=4)
ax.plot([-0.3, 241.5], [1.2426, 1.2426], color='#4caf50', lw=1.5, ls=(0, (1, 3)), zorder=4)

for ch in (d_channel_a, d_channel_b, d_channel_c):
    cx, cy = xy(ch)
    ax.plot(cx, cy, color='#9a9ca5', lw=1.2, zorder=4)

for label, lev in d_pivots:
    ax.plot([195.2, 218], [lev, lev], color='#8f9199', lw=1.1, zorder=4)
    ax.text(192.9, lev, label, color='#6d6f78', fontsize=9.3, ha='right', va='center', zorder=3)

candles(ax, d_open, d_close, d_high, d_low, 0.78)
runs(ax, d_mid_runs, '#0f4a10', '#7a0808', 1.3)
runs(ax, d_fast_runs, '#0b5f0c', '#a00404', 1.9)

fx, fy = xy(d_forecast)
ax.plot(fx, fy, color='#4a86c8', lw=1.3, zorder=8)
ax.annotate('', xy=(fx[-1], fy[-1]), xytext=(fx[-2]+(fx[-1]-fx[-2])*0.8, fy[-2]+(fy[-1]-fy[-2])*0.8),
            arrowprops=dict(arrowstyle='->', color='#4a86c8', lw=1.2), zorder=8)

rx, ry = xy(d_red_dots)
ax.scatter(rx, ry, s=52, color='#f23645', lw=0, zorder=9)
gx, gy = xy(d_green_dots)
ax.scatter(gx, gy, s=52, color='#4caf50', lw=0, zorder=9)

# the small marks right of the last bars
ax.plot([211.4, 212.4], [1.3079, 1.3079], color='#ff9800', lw=1, zorder=7)
ax.plot([211.4, 212.4], [1.2889, 1.2889], color='#ff9800', lw=1, zorder=7)
ax.plot([211.4, 212.8], [1.3020, 1.3020], color='#8a2f35', lw=2.5, zorder=7)
ax.plot([211.6, 212.8], [1.2948, 1.2948], color='#2c7f7c', lw=2.5, zorder=7)
ax.plot([209.5, 211], [1.3002, 1.3002], color='#8b0000', lw=1.5, zorder=7)
ax.plot([242.4], [1.29], marker='>', ms=7, color='#d1d4dc', clip_on=False, zorder=9)
ax.scatter([211], [1.2213], s=190, facecolor='#14141a', edgecolor='#9c27b0', lw=1.3, zorder=9)
ax.text(211, 1.2213, '\u26a1', color='#b13bc9', fontsize=9, ha='center', va='center', zorder=10)

# ---------- daily, momentum ----------
ax2 = pane(11, 917, 1627, 1035)
ax2.set_xlim(-10.375, 255.76)
ax2.set_ylim((978.7-1035)/0.614, (978.7-917)/0.614)
inner_right(ax2, [-50, 0, 50, 100], '%.5f', -53.3)
ax2.plot([-0.3, 211], [0, 0], color='#1b1e27', lw=1)
mom_line(ax2, d_mom)
clip_labels(ax2)

# ---------- daily, stochastic ----------
ax3 = pane(11, 1036, 1627, 1193)
ax3.set_xlim(-10.375, 255.76)
ax3.set_ylim((1163-1193)/1.24, (1163-1036)/1.24)
ax3.set_xticks(month_pos)
ax3.set_xticklabels(month_lab)
ax3.tick_params(axis='x', pad=-12.2, labelsize=9.5)
ax3.get_xticklabels()[0].set_fontweight('bold')
ax3.get_xticklabels()[0].set_color('#c8cad0')
ax3.axhspan(44, 53.5, xmin=(-0.3+10.375)/266.135, xmax=(241.5+10.375)/266.135, facecolor='#3a3a3a', edgecolor='#777777', lw=1)
ax3.plot([-0.3, 241.5], [49, 49], color='#8f8f8f', lw=1, ls=(0, (3, 3)))
ax3.plot([-0.3, 241.5], [75, 75], color='#f44336', lw=1.2)
ax3.plot([-0.3, 241.5], [24.5, 24.5], color='#4caf50', lw=1.2)
for data, col in ((d_slow_g, '#3f9a44'), (d_slow_r, '#e0392b'), (d_fast_g, '#3f9a44'), (d_fast_r, '#e0392b')):
    sx, sy = xy(data)
    ax3.plot(sx, sy, color=col, lw=0.95)

ax3b = ax3.twinx()
ax3b.patch.set_visible(False)
for s in ax3b.spines.values():
    s.set_visible(False)
ax3b.set_ylim((1155-1193)/1.0625, (1155-1036)/1.0625)
ax3b.yaxis.tick_left()
ax3b.set_yticks([0, 40, 80])
ax3b.set_yticklabels(['0.00', '40.00', '80.00'], ha='right')
ax3b.tick_params(axis='y', pad=-36.7, length=0, labelcolor=TXT, labelsize=9.7)

# twinx moved the ticks of the first axes, so these come after it
ax3.yaxis.tick_right()
ax3.set_yticks([0, 25, 50, 75, 100])
ax3.set_yticklabels(['%.2f' % v for v in [0, 25, 50, 75, 100]], ha='left')
ax3.tick_params(axis='y', pad=-53.3, length=0, labelcolor=TXT, labelsize=9.7)
clip_labels(ax3)

# ---------- weekly, main pane ----------
axw = pane(1632.5, 28, 2121, 917)
axw.set_xlim(-11.4, 71.6)
axw.set_ylim(1.40-(917-72.8)/35.89*0.01, 1.40+(72.8-28)/35.89*0.01)
inner_right(axw, w_price_ticks, '%.5f', -52.8)

axw.text(28.5, 1.2963, 'GBPUSD, 1W', color='#1b1b1e', fontsize=45, ha='center', va='center', zorder=0.5, clip_on=True)
axw.text(28.5, 1.2787, 'British Pound / U.S. Dollar', color='#1b1b1e', fontsize=22, ha='center', va='center', zorder=0.5, clip_on=True)

w_rows = w_vr_top - np.arange(len(w_vr_vol))*0.005
for off in (0, 0.0025):
    axw.hlines(w_rows-off, 47-np.array(w_vr_vol)/5.89, 47, color='#4a4a4e', lw=0.8, zorder=1)

w_rows2 = w_vp_top - np.arange(len(w_vp_buy))*w_vp_step
bw = np.array(w_vp_buy)/5.89
sw = np.array(w_vp_sell)/5.89
axw.barh(w_rows2, bw, left=-0.9, height=0.0017, color='#245026', lw=0, zorder=1.5)
axw.barh(w_rows2, sw, left=-0.9+bw, height=0.0017, color='#6e201d', lw=0, zorder=1.5)

for label, lev in w_pivot_grey:
    axw.plot([5.1, 57.5], [lev, lev], color='#6d6f76', lw=0.9, zorder=3)
    axw.text(-0.9, lev, label, color='#6d6f78', fontsize=9, ha='left', va='center', zorder=3)
for lev, col, label in w_levels:
    axw.plot([13.9, 39.1], [lev, lev], color=col, lw=1.4, zorder=3)
    axw.text(41.2, lev, label, color=col, fontsize=9, ha='left', va='center', zorder=3)
for lev, label in w_faint_labels:
    axw.text(41.2, lev, label, color='#3d3f45', fontsize=9, ha='left', va='center', zorder=3)

for band, col in ((w_upper_out, '#6b1f18'), (w_upper_in, '#6b1f18'), (w_lower_in, '#2f7a33'), (w_lower_out, '#2f7a33')):
    bx, by = xy(band)
    axw.plot(bx, by, color=col, lw=1.0, zorder=2)
for ch in w_channels:
    cx, cy = xy(ch)
    axw.plot(cx, cy, color='#5d5e63', lw=0.9, zorder=3)

axw.plot([-0.9, 57.5], [1.2680, 1.2680], color='#ff9800', lw=1.6, zorder=4)
axw.plot([-0.9, 57.5], [1.2869, 1.2869], color='#f23645', lw=1.2, ls=(0, (2, 3)), zorder=4)
axw.plot([-0.9, 57.5], [1.2966, 1.2966], color='#f23645', lw=0.8, ls=(0, (1, 2)), zorder=4)
axw.plot([-0.9, 47], [1.3110, 1.3110], color='#b03038', lw=0.8, ls=(0, (1, 2)), zorder=4)
axw.plot([-0.9, 57.5], [1.2434, 1.2434], color='#4caf50', lw=1.1, ls=(0, (2, 3)), zorder=4)

candles(axw, w_open, w_close, w_high, w_low, 0.78)
runs(axw, w_mid_runs, '#0f6612', '#9c0505', 1.5)
axw.scatter([14.3], [1.2185], s=50, color='#2f6e33', lw=0, zorder=9)
axw.plot([58.1], [1.29], marker='>', ms=7, color='#d1d4dc', clip_on=False, zorder=9)
axw.scatter([47], [1.1684], s=190, facecolor='#14141a', edgecolor='#9c27b0', lw=1.3, zorder=9)
axw.text(47, 1.1684, '\u26a1', color='#b13bc9', fontsize=9, ha='center', va='center', zorder=10)
axw.scatter([48.2], [1.1704], s=14, color='#f23645', lw=0, zorder=11)

# ---------- weekly, momentum ----------
axw2 = pane(1632.5, 918, 2121, 1033)
axw2.set_xlim(-11.4, 71.6)
axw2.set_ylim((985.7-1033)/1.09, (985.7-918)/1.09)
inner_right(axw2, [-40, 0, 40], '%.5f', -52.8)
axw2.plot([-0.9, 47], [0, 0], color='#1b1e27', lw=1)
mom_line(axw2, w_mom, limit=45.5)
clip_labels(axw2)

# ---------- weekly, stochastic ----------
axw3 = pane(1632.5, 1034, 2121, 1193)
axw3.set_xlim(-11.4, 71.6)
axw3.set_ylim((1159-1193)/1.145, (1159-1034)/1.145)
axw3.yaxis.tick_left()
axw3.set_yticks([0, 40, 80])
axw3.set_yticklabels(['0.00', '40.00', '80.00'], ha='right')
axw3.tick_params(axis='y', pad=-37.4)
axw3.set_xticks(w_time_pos)
axw3.set_xticklabels(w_time_lab)
axw3.tick_params(axis='x', pad=-12.2, labelsize=9.5)
axw3.get_xticklabels()[0].set_fontweight('bold')
axw3.get_xticklabels()[0].set_color('#c8cad0')
axw3.axhspan(4, 23, xmin=(-0.9+11.4)/83, xmax=(57.5+11.4)/83, facecolor='#2b2b2b', edgecolor='#6b6b6b', lw=1)
axw3.plot([-0.9, 57.5], [50, 50], color='#55565a', lw=0.9, ls=(0, (3, 3)))
axw3.plot([-0.9, 57.5], [79, 79], color='#f44336', lw=1.2)
axw3.plot([-0.9, 57.5], [20, 20], color='#4caf50', lw=1.2)
for data, col in ((w_slow_g, '#3f9a44'), (w_slow_r, '#e0392b'), (w_fast_g, '#3f9a44'), (w_fast_r, '#e0392b')):
    sx, sy = xy(data)
    axw3.plot(sx, sy, color=col, lw=0.95)

axw3b = axw3.twinx()
axw3b.patch.set_visible(False)
for s in axw3b.spines.values():
    s.set_visible(False)
axw3b.set_ylim(80-(1193-1069.7)/2.4, 80+(1069.7-1034)/2.4)
axw3b.yaxis.tick_right()
axw3b.set_yticks([60, 80])
axw3b.set_yticklabels(['60.00', '80.00'], ha='left')
axw3b.tick_params(axis='y', pad=-52.8, length=0, labelcolor=TXT, labelsize=9.7)

# ---------- flags and chrome ----------
fig.add_artist(Rectangle((1544/W, 1-437/H), 67/W, 31/H, transform=fig.transFigure, fc='#ff0000', ec='none', zorder=15))
px_text(1552, 414, '1.29696', color='white', fontsize=9.7, va='center', zorder=16)
px_text(1552, 429, '13:35:52', color='#ffd9d9', fontsize=9.7, va='center', zorder=16)
fig.add_artist(Rectangle((2039/W, 1-465/H), 64/W, 30/H, transform=fig.transFigure, fc='#ff0000', ec='none', zorder=15))
px_text(2048, 443, '1.29696', color='white', fontsize=9.7, va='center', zorder=16)
px_text(2048, 457, '2d 14h', color='#ffd9d9', fontsize=9.7, va='center', zorder=16)
fig.add_artist(Rectangle((2042/W, 1-57/H), 76/W, 27/H, transform=fig.transFigure, fc='#1e222d', ec='#2a2e39', zorder=15))
px_text(2052, 43.5, 'USD', color='#d1d4dc', fontsize=8.5, fontweight='bold', va='center', zorder=16)

px_text(10, 14, 'Tickmill published on TradingView.com, Oct 23, 2024 08:24 UTC+1', color='#d1d4dc', fontsize=9.2, fontweight='medium', va='center')
px_text(33, 1213, 'TradingView', color='#d1d4dc', fontsize=10, fontweight='medium', va='center')
px_text(10, 1212, '17', color='#e6e8ee', fontsize=12, fontweight='black', va='center')

circle_btn(41, 1180, 'Z')
circle_btn(1585, 1180, 'A')
circle_btn(1663, 1180, 'Z')
circle_btn(2081, 1180, 'A')

fig.savefig('out.png', dpi=100, facecolor=BG)
